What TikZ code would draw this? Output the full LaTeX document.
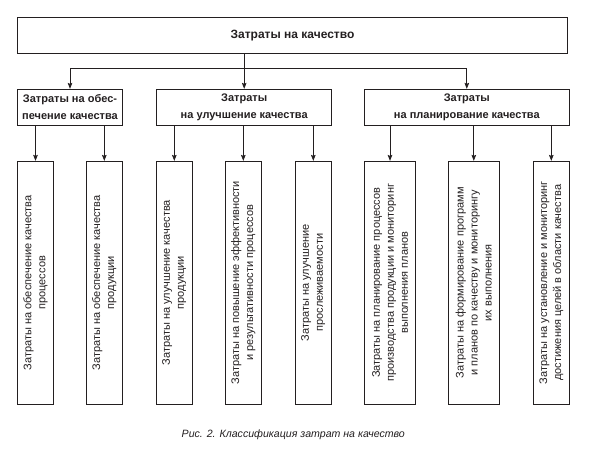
\documentclass[tikz,border=0pt]{standalone}
\usepackage{fontspec}
\setmainfont{Liberation Sans}
\usetikzlibrary{arrows.meta}
\definecolor{ink}{HTML}{231F20}
\tikzset{
  box/.style={draw=ink, line width=0.9pt, inner sep=0pt, text=ink},
  topbox/.style={box, font=\fontsize{12}{14}\selectfont\bfseries},
  midbox/.style={box, align=center, font=\fontsize{11}{16.7}\selectfont\bfseries},
  leafbox/.style={box, minimum height=242.7pt},
  leaftext/.style={rotate=90, align=center, text=ink, inner sep=0pt, font=\fontsize{11}{14}\selectfont},
  arr/.style={draw=ink, line width=0.8pt, -{Stealth[length=6pt,width=4.6pt,inset=1pt]}},
  ln/.style={draw=ink, line width=0.8pt}
}
\begin{document}
\begin{tikzpicture}[x=1pt,y=-1pt]
\useasboundingbox (0,0) rectangle (592,448);
% top
\node[topbox, minimum width=550.4pt, minimum height=36pt] (top) at (292.5,35.3) {Затраты на качество};
% level 2
\node[midbox, minimum width=105.4pt, minimum height=36pt] (A) at (70,107.3) {Затраты на обес-\\печение качества};
\node[midbox, minimum width=175pt, minimum height=36pt] (B) at (244.2,107.3) {Затраты\\на улучшение качества};
\node[midbox, minimum width=205pt, minimum height=36pt] (C) at (466.8,107.3) {Затраты\\на планирование качества};
% level 3 boxes
\node[leafbox, minimum width=36.4pt] (c1) at (35.5,282.7) {};
\node[leafbox, minimum width=36pt] (c2) at (104.3,282.7) {};
\node[leafbox, minimum width=36pt] (c3) at (174.3,282.7) {};
\node[leafbox, minimum width=36pt] (c4) at (243.3,282.7) {};
\node[leafbox, minimum width=36.7pt] (c5) at (313.3,282.7) {};
\node[leafbox, minimum width=51.4pt] (c6) at (390,282.7) {};
\node[leafbox, minimum width=51pt] (c7) at (473.8,282.7) {};
\node[leafbox, minimum width=36pt] (c8) at (551.3,282.7) {};
% level 3 texts
\node[leaftext] (t1) at (c1.center) {Затраты на обеспечение качества\\процессов};
\node[leaftext] (t2) at (c2.center) {Затраты на обеспечение качества\\продукции};
\node[leaftext] (t3) at (c3.center) {Затраты на улучшение качества\\продукции};
\node[leaftext] (t4) at (c4.center) {Затраты на повышение эффективности\\и результативности процессов};
\node[leaftext] (t5) at (c5.center) {Затраты на улучшение\\прослеживаемости};
\node[leaftext] (t6) at (c6.center) {Затраты на планирование процессов\\производства продукции и мониторинг\\выполнения планов};
\node[leaftext] (t7) at (c7.center) {Затраты на формирование программ\\и планов по качеству и мониторингу\\их выполнения};
\node[leaftext] (t8) at (c8.center) {Затраты на установление и мониторинг\\достижения целей в области качества};
% connectors top -> level 2
\coordinate (bus) at (0,68.3);
\draw[arr] (top.south -| B.north) -- (B.north);
\draw[ln] (A.north |- bus) -- (C.north |- bus);
\draw[arr] (A.north |- bus) -- (A.north);
\draw[arr] (C.north |- bus) -- (C.north);
% level 2 -> level 3
\draw[arr] (c1.north |- A.south) -- (c1.north);
\draw[arr] (c2.north |- A.south) -- (c2.north);
\draw[arr] (c3.north |- B.south) -- (c3.north);
\draw[arr] (c4.north |- B.south) -- (c4.north);
\draw[arr] (c5.north |- B.south) -- (c5.north);
\draw[arr] (c6.north |- C.south) -- (c6.north);
\draw[arr] (c7.north |- C.south) -- (c7.north);
\draw[arr] (c8.north |- C.south) -- (c8.north);
% caption
\node[anchor=base, text=ink, inner sep=0pt, font=\fontsize{10.6}{12.5}\selectfont\itshape] (cap) at (293.3,437.3) {Рис. 2. Классификация затрат на качество};
\end{tikzpicture}
\end{document}
